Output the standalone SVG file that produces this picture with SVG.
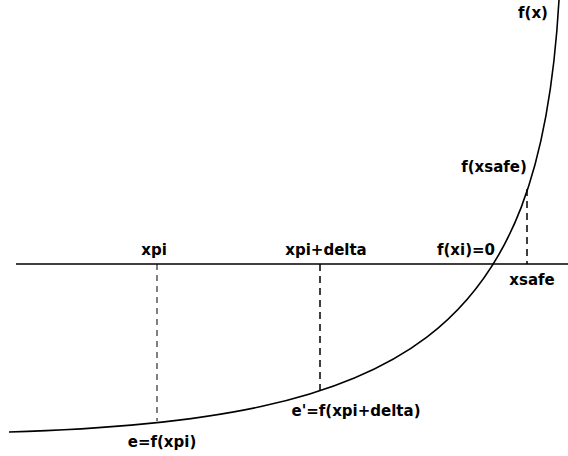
<svg xmlns="http://www.w3.org/2000/svg" width="568" height="456" viewBox="0 0 568 456">
<style>
text{font-family:"DejaVu Sans",sans-serif;font-size:15px;font-weight:bold;fill:#000;text-anchor:middle}
.axis{stroke:#000;stroke-width:1.5;fill:none}
.curve{stroke:#000;stroke-width:1.6;fill:none}
.dash{stroke:#000;stroke-width:1;stroke-dasharray:6,5;fill:none}
.dash2{stroke:#000;stroke-width:1.5;stroke-dasharray:7,5;fill:none}
</style>
<rect width="568" height="456" fill="#fff"/>
<g id="connectors">
<line class="axis" x1="16" y1="264" x2="568" y2="264"/>
<path class="curve" d="M9,432 C409,420 540,335 559,0 L559.6,-10"/>
<line class="dash" x1="157" y1="264" x2="157" y2="421"/>
<line class="dash2" x1="320" y1="264" x2="320" y2="391"/>
<line class="dash2" x1="527" y1="189" x2="527" y2="264"/>
</g>
<g id="labels">
<text x="154" y="255">xpi</text>
<text x="326" y="255">xpi+delta</text>
<text x="466" y="255">f(xi)=0</text>
<text x="532" y="285">xsafe</text>
<text x="494" y="172">f(xsafe)</text>
<text x="533" y="18">f(x)</text>
<text x="162" y="447">e=f(xpi)</text>
<text x="356" y="416">e'=f(xpi+delta)</text>
</g>
</svg>
